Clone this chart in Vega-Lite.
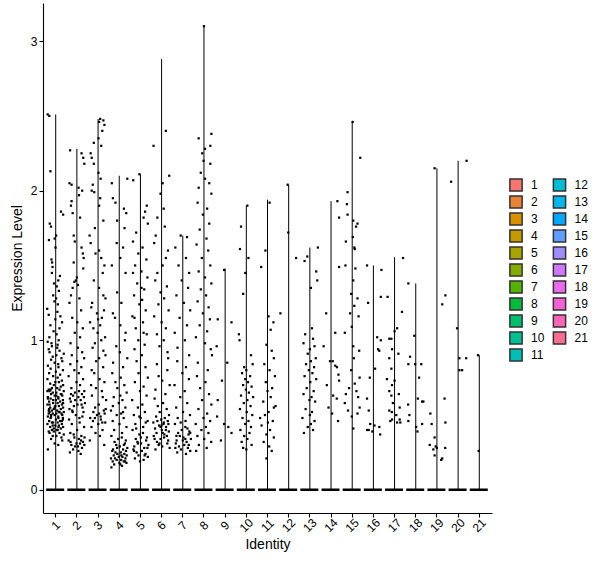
{
  "$schema": "https://vega.github.io/schema/vega-lite/v6.json",
  "width": 449,
  "height": 510,
  "autosize": {"type": "none"},
  "padding": {"left": 43, "top": 3, "right": 108, "bottom": 55},
  "background": "white",
  "config": {
    "font": "Liberation Sans",
    "view": {"stroke": null},
    "axis": {
      "domainColor": "black", "domainWidth": 1.1, "tickColor": "black", "tickWidth": 1.1, "tickSize": 4,
      "labelColor": "black", "labelFontSize": 12, "titleFontSize": 14, "titleFontWeight": "normal",
      "titleColor": "black", "grid": false, "labelPadding": 2
    },
    "legend": {
      "labelFontSize": 12, "labelColor": "black", "title": null, "orient": "none",
      "symbolType": "square", "symbolSize": 150, "symbolStrokeColor": "#333333", "symbolStrokeWidth": 1.5,
      "symbolOpacity": 1, "labelOffset": 8, "padding": 0
    }
  },
  "datasets": {
    "vio": [
      {"c":1,"min":0,"max":2.51},{"c":2,"min":0,"max":2.28},{"c":3,"min":0,"max":2.48},{"c":4,"min":0,"max":2.1},{"c":5,"min":0,"max":2.11},
      {"c":6,"min":0,"max":2.88},{"c":7,"min":0,"max":1.7},{"c":8,"min":0,"max":3.1},{"c":9,"min":0,"max":1.48},{"c":10,"min":0,"max":1.9},
      {"c":11,"min":0,"max":1.94},{"c":12,"min":0,"max":2.04},{"c":13,"min":0,"max":1.62},{"c":14,"min":0,"max":1.93},{"c":15,"min":0,"max":2.46},
      {"c":16,"min":0,"max":1.5},{"c":17,"min":0,"max":1.555},{"c":18,"min":0,"max":1.38},{"c":19,"min":0,"max":2.15},{"c":20,"min":0,"max":2.2},
      {"c":21,"min":0,"max":0.9}
    ],
    "cells": [
      {"c":1,"j":-0.38,"v":2.51},{"c":1,"j":-0.30,"v":2.50},{"c":1,"j":-0.25,"v":2.13},{"c":1,"j":0.25,"v":1.86},{"c":1,"j":0.35,"v":1.84},
      {"c":1,"j":-0.28,"v":1.78},{"c":1,"j":-0.22,"v":1.76},{"c":1,"j":0.02,"v":1.70},{"c":1,"j":-0.05,"v":1.68},{"c":1,"j":-0.32,"v":1.67},
      {"c":1,"j":-0.01,"v":1.62},{"c":1,"j":-0.20,"v":1.54},{"c":1,"j":-0.17,"v":1.52},{"c":1,"j":-0.15,"v":1.49},{"c":1,"j":-0.18,"v":1.45},
      {"c":1,"j":0.20,"v":1.43},{"c":1,"j":0.12,"v":1.40},{"c":1,"j":-0.08,"v":1.38},{"c":1,"j":0.05,"v":1.36},{"c":1,"j":0.15,"v":1.33},
      {"c":1,"j":-0.12,"v":1.30},{"c":1,"j":0.02,"v":1.28},{"c":1,"j":-0.06,"v":1.26},{"c":1,"j":0.10,"v":1.24},{"c":1,"j":-0.40,"v":1.21},
      {"c":1,"j":0.08,"v":1.19},{"c":1,"j":-0.33,"v":1.17},{"c":1,"j":0.22,"v":1.16},{"c":1,"j":-0.02,"v":1.14},{"c":1,"j":0.30,"v":1.12},
      {"c":1,"j":-0.25,"v":1.10},{"c":1,"j":0.18,"v":1.08},{"c":1,"j":-0.10,"v":1.06},{"c":1,"j":0.04,"v":1.04},{"c":1,"j":-0.30,"v":1.02},
      {"c":1,"j":0.14,"v":1.00},{"c":1,"j":-0.38,"v":0.99},{"c":1,"j":-0.20,"v":0.98},{"c":1,"j":0.09,"v":0.97},
      {"c":1,"j":-0.37,"v":0.27},{"c":1,"j":0.12,"v":0.30},{"c":1,"j":-0.05,"v":0.31},{"c":1,"j":0.31,"v":0.33},{"c":1,"j":-0.22,"v":0.34},
      {"c":1,"j":0.27,"v":0.35},{"c":1,"j":-0.14,"v":0.36},{"c":1,"j":0.03,"v":0.36},{"c":1,"j":0.38,"v":0.37},{"c":1,"j":-0.29,"v":0.38},
      {"c":1,"j":0.18,"v":0.38},{"c":1,"j":-0.33,"v":0.39},{"c":1,"j":0.07,"v":0.40},{"c":1,"j":-0.18,"v":0.40},{"c":1,"j":0.24,"v":0.41},
      {"c":1,"j":-0.09,"v":0.41},{"c":1,"j":0.35,"v":0.42},{"c":1,"j":-0.26,"v":0.42},{"c":1,"j":0.15,"v":0.43},{"c":1,"j":-0.02,"v":0.43},
      {"c":1,"j":0.29,"v":0.44},{"c":1,"j":-0.39,"v":0.44},{"c":1,"j":0.09,"v":0.45},{"c":1,"j":-0.12,"v":0.45},{"c":1,"j":0.21,"v":0.46},
      {"c":1,"j":-0.31,"v":0.46},{"c":1,"j":0.01,"v":0.47},{"c":1,"j":0.34,"v":0.47},{"c":1,"j":-0.24,"v":0.48},{"c":1,"j":0.13,"v":0.48},
      {"c":1,"j":-0.37,"v":0.49},{"c":1,"j":0.12,"v":0.49},{"c":1,"j":-0.05,"v":0.50},{"c":1,"j":0.31,"v":0.50},{"c":1,"j":-0.22,"v":0.50},
      {"c":1,"j":0.27,"v":0.51},{"c":1,"j":-0.14,"v":0.51},{"c":1,"j":0.03,"v":0.51},{"c":1,"j":0.38,"v":0.52},{"c":1,"j":-0.29,"v":0.52},
      {"c":1,"j":0.18,"v":0.52},{"c":1,"j":-0.33,"v":0.53},{"c":1,"j":0.07,"v":0.53},{"c":1,"j":-0.18,"v":0.53},{"c":1,"j":0.24,"v":0.54},
      {"c":1,"j":-0.09,"v":0.54},{"c":1,"j":0.35,"v":0.55},{"c":1,"j":-0.26,"v":0.55},{"c":1,"j":0.15,"v":0.56},{"c":1,"j":-0.02,"v":0.56},
      {"c":1,"j":0.29,"v":0.57},{"c":1,"j":-0.39,"v":0.57},{"c":1,"j":0.09,"v":0.58},{"c":1,"j":-0.12,"v":0.58},{"c":1,"j":0.21,"v":0.59},
      {"c":1,"j":-0.31,"v":0.59},{"c":1,"j":0.01,"v":0.60},{"c":1,"j":0.34,"v":0.60},{"c":1,"j":-0.24,"v":0.61},{"c":1,"j":0.13,"v":0.61},
      {"c":1,"j":-0.37,"v":0.62},{"c":1,"j":0.12,"v":0.62},{"c":1,"j":-0.05,"v":0.63},{"c":1,"j":0.31,"v":0.63},{"c":1,"j":-0.22,"v":0.64},
      {"c":1,"j":0.27,"v":0.64},{"c":1,"j":-0.14,"v":0.65},{"c":1,"j":0.03,"v":0.65},{"c":1,"j":0.38,"v":0.66},{"c":1,"j":-0.29,"v":0.66},
      {"c":1,"j":0.18,"v":0.67},{"c":1,"j":-0.33,"v":0.67},{"c":1,"j":0.07,"v":0.68},{"c":1,"j":-0.18,"v":0.68},{"c":1,"j":0.24,"v":0.69},
      {"c":1,"j":-0.09,"v":0.70},{"c":1,"j":0.35,"v":0.70},{"c":1,"j":-0.26,"v":0.71},{"c":1,"j":0.15,"v":0.72},{"c":1,"j":-0.02,"v":0.72},
      {"c":1,"j":0.29,"v":0.73},{"c":1,"j":-0.39,"v":0.74},{"c":1,"j":0.09,"v":0.75},{"c":1,"j":-0.12,"v":0.76},{"c":1,"j":0.21,"v":0.77},
      {"c":1,"j":-0.31,"v":0.78},{"c":1,"j":0.01,"v":0.79},{"c":1,"j":0.34,"v":0.80},{"c":1,"j":-0.24,"v":0.81},{"c":1,"j":0.13,"v":0.82},
      {"c":1,"j":-0.37,"v":0.83},{"c":1,"j":0.12,"v":0.84},{"c":1,"j":-0.05,"v":0.85},{"c":1,"j":0.31,"v":0.86},{"c":1,"j":-0.22,"v":0.87},
      {"c":1,"j":0.27,"v":0.88},{"c":1,"j":-0.14,"v":0.89},{"c":1,"j":0.03,"v":0.90},{"c":1,"j":0.38,"v":0.91},{"c":1,"j":-0.29,"v":0.92},
      {"c":1,"j":0.18,"v":0.93},{"c":1,"j":-0.33,"v":0.94},{"c":1,"j":0.07,"v":0.95},{"c":1,"j":-0.18,"v":0.96},
      {"c":1,"j":-0.09,"v":0.39},{"c":1,"j":0.09,"v":0.40},{"c":1,"j":0.13,"v":0.42},{"c":1,"j":-0.14,"v":0.43},{"c":1,"j":-0.18,"v":0.45},
      {"c":1,"j":0.29,"v":0.46},{"c":1,"j":0.34,"v":0.48},{"c":1,"j":-0.22,"v":0.49},{"c":1,"j":-0.33,"v":0.51},{"c":1,"j":0.15,"v":0.52},
      {"c":1,"j":-0.31,"v":0.54},{"c":1,"j":-0.05,"v":0.55},{"c":1,"j":-0.29,"v":0.57},{"c":1,"j":0.35,"v":0.58},{"c":1,"j":-0.12,"v":0.60},
      {"c":1,"j":-0.37,"v":0.61},{"c":1,"j":0.03,"v":0.63},{"c":1,"j":0.24,"v":0.64},{"c":1,"j":-0.39,"v":0.66},{"c":1,"j":-0.24,"v":0.67},

      {"c":2,"j":-0.32,"v":2.27},{"c":2,"j":0.22,"v":2.25},{"c":2,"j":0.30,"v":2.22},{"c":2,"j":0.35,"v":2.18},{"c":2,"j":-0.35,"v":2.05},
      {"c":2,"j":-0.25,"v":2.04},{"c":2,"j":0.08,"v":2.02},{"c":2,"j":0.25,"v":2.00},{"c":2,"j":0.10,"v":1.97},{"c":2,"j":-0.25,"v":1.93},
      {"c":2,"j":-0.28,"v":1.90},{"c":2,"j":-0.20,"v":1.85},{"c":2,"j":0.15,"v":1.82},{"c":2,"j":-0.15,"v":1.70},{"c":2,"j":-0.10,"v":1.66},
      {"c":2,"j":0.22,"v":1.62},{"c":2,"j":0.28,"v":1.58},{"c":2,"j":0.32,"v":1.55},{"c":2,"j":-0.15,"v":1.52},{"c":2,"j":0.30,"v":1.48},
      {"c":2,"j":0.00,"v":1.42},{"c":2,"j":-0.05,"v":1.40},{"c":2,"j":-0.12,"v":1.39},{"c":2,"j":0.05,"v":1.37},{"c":2,"j":-0.20,"v":1.35},
      {"c":2,"j":-0.28,"v":1.30},{"c":2,"j":0.12,"v":1.28},{"c":2,"j":-0.35,"v":1.25},{"c":2,"j":0.20,"v":1.20},{"c":2,"j":-0.22,"v":1.15},
      {"c":2,"j":0.02,"v":1.12},{"c":2,"j":0.28,"v":1.08},{"c":2,"j":-0.10,"v":1.05},{"c":2,"j":0.15,"v":1.02},{"c":2,"j":-0.30,"v":0.98},
      {"c":2,"j":0.05,"v":0.95},{"c":2,"j":0.25,"v":0.92},
      {"c":2,"j":0.18,"v":0.24},{"c":2,"j":-0.33,"v":0.25},{"c":2,"j":0.07,"v":0.26},{"c":2,"j":-0.18,"v":0.27},{"c":2,"j":0.24,"v":0.28},
      {"c":2,"j":-0.09,"v":0.29},{"c":2,"j":0.35,"v":0.30},{"c":2,"j":-0.26,"v":0.30},{"c":2,"j":0.15,"v":0.31},{"c":2,"j":-0.02,"v":0.31},
      {"c":2,"j":0.29,"v":0.32},{"c":2,"j":-0.39,"v":0.33},{"c":2,"j":0.09,"v":0.34},{"c":2,"j":-0.12,"v":0.35},{"c":2,"j":0.21,"v":0.36},
      {"c":2,"j":-0.31,"v":0.38},{"c":2,"j":0.01,"v":0.40},{"c":2,"j":0.34,"v":0.42},{"c":2,"j":-0.24,"v":0.44},{"c":2,"j":0.13,"v":0.45},
      {"c":2,"j":-0.37,"v":0.47},{"c":2,"j":0.12,"v":0.48},{"c":2,"j":-0.05,"v":0.50},{"c":2,"j":0.31,"v":0.52},{"c":2,"j":-0.22,"v":0.53},
      {"c":2,"j":0.27,"v":0.55},{"c":2,"j":-0.14,"v":0.56},{"c":2,"j":0.03,"v":0.57},{"c":2,"j":0.38,"v":0.58},{"c":2,"j":-0.29,"v":0.59},
      {"c":2,"j":0.18,"v":0.60},{"c":2,"j":-0.33,"v":0.61},{"c":2,"j":0.07,"v":0.62},{"c":2,"j":-0.18,"v":0.63},{"c":2,"j":0.24,"v":0.64},
      {"c":2,"j":-0.09,"v":0.65},{"c":2,"j":0.35,"v":0.66},{"c":2,"j":-0.26,"v":0.68},{"c":2,"j":0.15,"v":0.70},{"c":2,"j":-0.02,"v":0.72},
      {"c":2,"j":0.29,"v":0.74},{"c":2,"j":-0.39,"v":0.76},{"c":2,"j":0.09,"v":0.78},{"c":2,"j":-0.12,"v":0.80},{"c":2,"j":0.21,"v":0.82},
      {"c":2,"j":-0.31,"v":0.84},{"c":2,"j":0.01,"v":0.86},{"c":2,"j":0.34,"v":0.88},{"c":2,"j":-0.24,"v":0.90},
      {"c":2,"j":0.05,"v":0.29},{"c":2,"j":-0.30,"v":0.32},{"c":2,"j":0.20,"v":0.33},{"c":2,"j":0.36,"v":0.35},{"c":2,"j":-0.15,"v":0.37},
      {"c":2,"j":-0.35,"v":0.54},{"c":2,"j":0.22,"v":0.57},{"c":2,"j":-0.08,"v":0.60},{"c":2,"j":0.33,"v":0.62},{"c":2,"j":-0.28,"v":0.64},
      {"c":2,"j":0.10,"v":0.66},{"c":2,"j":-0.20,"v":0.52},{"c":2,"j":0.26,"v":0.49},

      {"c":3,"j":0.10,"v":2.48},{"c":3,"j":0.25,"v":2.47},{"c":3,"j":0.05,"v":2.46},{"c":3,"j":0.30,"v":2.44},{"c":3,"j":0.20,"v":2.40},
      {"c":3,"j":0.02,"v":2.35},{"c":3,"j":-0.20,"v":2.32},{"c":3,"j":0.15,"v":2.30},{"c":3,"j":-0.35,"v":2.25},{"c":3,"j":-0.30,"v":2.22},
      {"c":3,"j":-0.20,"v":2.18},{"c":3,"j":0.02,"v":2.12},{"c":3,"j":0.12,"v":2.08},{"c":3,"j":-0.25,"v":2.04},{"c":3,"j":-0.30,"v":2.00},
      {"c":3,"j":-0.18,"v":1.99},{"c":3,"j":0.10,"v":1.95},{"c":3,"j":0.05,"v":1.90},{"c":3,"j":0.25,"v":1.80},{"c":3,"j":-0.15,"v":1.75},
      {"c":3,"j":-0.40,"v":1.70},{"c":3,"j":-0.35,"v":1.65},{"c":3,"j":0.05,"v":1.60},{"c":3,"j":-0.12,"v":1.58},{"c":3,"j":0.15,"v":1.55},
      {"c":3,"j":0.30,"v":1.50},{"c":3,"j":0.22,"v":1.45},{"c":3,"j":-0.20,"v":1.40},{"c":3,"j":0.05,"v":1.35},{"c":3,"j":0.25,"v":1.30},
      {"c":3,"j":0.35,"v":1.28},{"c":3,"j":-0.28,"v":1.25},{"c":3,"j":-0.05,"v":1.18},{"c":3,"j":0.18,"v":1.15},{"c":3,"j":-0.38,"v":1.12},
      {"c":3,"j":0.10,"v":1.10},
      {"c":3,"j":0.29,"v":0.30},{"c":3,"j":-0.39,"v":0.33},{"c":3,"j":0.09,"v":0.36},{"c":3,"j":-0.12,"v":0.38},{"c":3,"j":0.21,"v":0.40},
      {"c":3,"j":-0.31,"v":0.42},{"c":3,"j":0.01,"v":0.44},{"c":3,"j":0.34,"v":0.45},{"c":3,"j":-0.24,"v":0.46},{"c":3,"j":0.13,"v":0.47},
      {"c":3,"j":-0.37,"v":0.48},{"c":3,"j":0.12,"v":0.49},{"c":3,"j":-0.05,"v":0.50},{"c":3,"j":0.31,"v":0.51},{"c":3,"j":-0.22,"v":0.52},
      {"c":3,"j":0.27,"v":0.53},{"c":3,"j":-0.14,"v":0.55},{"c":3,"j":0.03,"v":0.57},{"c":3,"j":0.38,"v":0.60},{"c":3,"j":-0.29,"v":0.63},
      {"c":3,"j":0.18,"v":0.66},{"c":3,"j":-0.33,"v":0.70},{"c":3,"j":0.07,"v":0.74},{"c":3,"j":-0.18,"v":0.78},{"c":3,"j":0.24,"v":0.82},
      {"c":3,"j":-0.09,"v":0.86},{"c":3,"j":0.35,"v":0.90},{"c":3,"j":-0.26,"v":0.95},{"c":3,"j":0.15,"v":1.00},{"c":3,"j":-0.02,"v":1.05},
      {"c":3,"j":0.22,"v":0.62},{"c":3,"j":-0.10,"v":0.68},{"c":3,"j":0.30,"v":0.72},{"c":3,"j":-0.30,"v":0.80},{"c":3,"j":0.05,"v":0.88},
      {"c":3,"j":0.25,"v":0.93},{"c":3,"j":-0.15,"v":0.98},{"c":3,"j":0.33,"v":1.02},{"c":3,"j":-0.22,"v":1.08},{"c":3,"j":0.00,"v":1.14},
      {"c":3,"j":0.28,"v":1.20},{"c":3,"j":-0.32,"v":1.22},{"c":3,"j":0.20,"v":0.45},{"c":3,"j":-0.15,"v":0.48},{"c":3,"j":0.05,"v":0.51},
      {"c":3,"j":0.36,"v":0.54},

      {"c":4,"j":0.38,"v":2.08},{"c":4,"j":-0.35,"v":2.05},{"c":4,"j":-0.30,"v":1.95},{"c":4,"j":-0.18,"v":1.92},{"c":4,"j":0.22,"v":1.88},
      {"c":4,"j":0.33,"v":1.85},{"c":4,"j":-0.10,"v":1.80},{"c":4,"j":0.25,"v":1.75},{"c":4,"j":-0.12,"v":1.65},{"c":4,"j":0.18,"v":1.62},
      {"c":4,"j":0.05,"v":1.55},{"c":4,"j":-0.35,"v":1.50},{"c":4,"j":0.30,"v":1.45},{"c":4,"j":-0.10,"v":1.32},{"c":4,"j":0.10,"v":1.25},
      {"c":4,"j":-0.30,"v":1.18},{"c":4,"j":-0.20,"v":1.15},{"c":4,"j":0.05,"v":1.10},{"c":4,"j":0.30,"v":1.05},
      {"c":4,"j":0.27,"v":1.00},{"c":4,"j":-0.14,"v":0.96},{"c":4,"j":0.03,"v":0.92},{"c":4,"j":0.38,"v":0.88},{"c":4,"j":-0.29,"v":0.85},
      {"c":4,"j":0.18,"v":0.82},{"c":4,"j":-0.33,"v":0.78},{"c":4,"j":0.07,"v":0.75},{"c":4,"j":-0.18,"v":0.72},{"c":4,"j":0.24,"v":0.70},
      {"c":4,"j":-0.09,"v":0.68},{"c":4,"j":0.35,"v":0.65},{"c":4,"j":-0.26,"v":0.62},{"c":4,"j":0.15,"v":0.60},{"c":4,"j":-0.02,"v":0.58},
      {"c":4,"j":0.29,"v":0.55},{"c":4,"j":-0.39,"v":0.53},{"c":4,"j":0.09,"v":0.51},{"c":4,"j":-0.12,"v":0.50},{"c":4,"j":0.21,"v":0.48},
      {"c":4,"j":-0.31,"v":0.46},{"c":4,"j":0.01,"v":0.44},{"c":4,"j":0.34,"v":0.42},{"c":4,"j":-0.24,"v":0.40},{"c":4,"j":0.13,"v":0.38},
      {"c":4,"j":-0.37,"v":0.36},{"c":4,"j":0.12,"v":0.35},{"c":4,"j":-0.05,"v":0.34},{"c":4,"j":0.31,"v":0.33},{"c":4,"j":-0.22,"v":0.32},
      {"c":4,"j":0.27,"v":0.31},{"c":4,"j":-0.14,"v":0.30},{"c":4,"j":0.03,"v":0.29},{"c":4,"j":0.38,"v":0.28},{"c":4,"j":-0.29,"v":0.27},
      {"c":4,"j":0.18,"v":0.27},{"c":4,"j":-0.33,"v":0.26},{"c":4,"j":0.07,"v":0.25},{"c":4,"j":-0.18,"v":0.25},{"c":4,"j":0.24,"v":0.24},
      {"c":4,"j":-0.09,"v":0.24},{"c":4,"j":0.35,"v":0.23},{"c":4,"j":-0.26,"v":0.23},{"c":4,"j":0.15,"v":0.22},{"c":4,"j":-0.02,"v":0.22},
      {"c":4,"j":0.29,"v":0.21},{"c":4,"j":-0.39,"v":0.21},{"c":4,"j":0.09,"v":0.20},{"c":4,"j":-0.12,"v":0.20},{"c":4,"j":0.21,"v":0.19},
      {"c":4,"j":-0.31,"v":0.19},{"c":4,"j":0.01,"v":0.18},{"c":4,"j":0.34,"v":0.18},{"c":4,"j":-0.24,"v":0.17},{"c":4,"j":0.13,"v":0.16},
      {"c":4,"j":-0.37,"v":0.15},
      {"c":4,"j":0.05,"v":0.17},{"c":4,"j":0.28,"v":0.19},{"c":4,"j":-0.20,"v":0.21},{"c":4,"j":0.10,"v":0.23},{"c":4,"j":0.32,"v":0.26},
      {"c":4,"j":-0.10,"v":0.28},{"c":4,"j":0.22,"v":0.30},{"c":4,"j":0.18,"v":0.52},{"c":4,"j":-0.30,"v":0.56},{"c":4,"j":0.05,"v":0.63},

      {"c":5,"j":-0.05,"v":2.11},{"c":5,"j":-0.34,"v":2.07},{"c":5,"j":0.30,"v":1.90},{"c":5,"j":0.22,"v":1.86},{"c":5,"j":0.15,"v":1.82},
      {"c":5,"j":0.35,"v":1.78},{"c":5,"j":-0.20,"v":1.72},{"c":5,"j":-0.35,"v":1.66},{"c":5,"j":0.10,"v":1.62},{"c":5,"j":-0.10,"v":1.58},
      {"c":5,"j":0.28,"v":1.54},{"c":5,"j":-0.25,"v":1.50},{"c":5,"j":0.05,"v":1.46},{"c":5,"j":0.33,"v":1.42},{"c":5,"j":-0.15,"v":1.38},
      {"c":5,"j":0.18,"v":1.34},{"c":5,"j":-0.30,"v":1.30},{"c":5,"j":0.08,"v":1.27},{"c":5,"j":-0.05,"v":1.24},{"c":5,"j":0.25,"v":1.20},
      {"c":5,"j":-0.38,"v":1.16},{"c":5,"j":0.12,"v":1.12},{"c":5,"j":-0.22,"v":1.08},{"c":5,"j":0.30,"v":1.04},{"c":5,"j":-0.10,"v":1.00},
      {"c":5,"j":0.20,"v":0.97},{"c":5,"j":-0.28,"v":0.94},
      {"c":5,"j":0.07,"v":0.90},{"c":5,"j":-0.18,"v":0.86},{"c":5,"j":0.24,"v":0.82},{"c":5,"j":-0.09,"v":0.78},{"c":5,"j":0.35,"v":0.75},
      {"c":5,"j":-0.26,"v":0.72},{"c":5,"j":0.15,"v":0.69},{"c":5,"j":-0.02,"v":0.66},{"c":5,"j":0.29,"v":0.63},{"c":5,"j":-0.39,"v":0.60},
      {"c":5,"j":0.09,"v":0.57},{"c":5,"j":-0.12,"v":0.55},{"c":5,"j":0.21,"v":0.52},{"c":5,"j":-0.31,"v":0.50},{"c":5,"j":0.01,"v":0.48},
      {"c":5,"j":0.34,"v":0.46},{"c":5,"j":-0.24,"v":0.44},{"c":5,"j":0.13,"v":0.42},{"c":5,"j":-0.37,"v":0.40},{"c":5,"j":0.12,"v":0.38},
      {"c":5,"j":-0.05,"v":0.37},{"c":5,"j":0.31,"v":0.35},{"c":5,"j":-0.22,"v":0.34},{"c":5,"j":0.27,"v":0.33},{"c":5,"j":-0.14,"v":0.32},
      {"c":5,"j":0.03,"v":0.31},{"c":5,"j":0.38,"v":0.30},{"c":5,"j":-0.29,"v":0.29},{"c":5,"j":0.18,"v":0.28},{"c":5,"j":-0.33,"v":0.27},
      {"c":5,"j":0.07,"v":0.26},{"c":5,"j":-0.18,"v":0.25},{"c":5,"j":0.24,"v":0.24},{"c":5,"j":-0.09,"v":0.23},{"c":5,"j":0.35,"v":0.22},
      {"c":5,"j":-0.26,"v":0.21},{"c":5,"j":0.15,"v":0.20},{"c":5,"j":-0.02,"v":0.19},
      {"c":5,"j":0.20,"v":0.23},{"c":5,"j":-0.30,"v":0.26},{"c":5,"j":0.33,"v":0.28},{"c":5,"j":-0.12,"v":0.31},{"c":5,"j":0.02,"v":0.35},
      {"c":5,"j":-0.20,"v":0.41},{"c":5,"j":0.25,"v":0.45},{"c":5,"j":-0.05,"v":0.49},{"c":5,"j":0.15,"v":1.05},{"c":5,"j":-0.28,"v":1.15},
      {"c":5,"j":0.05,"v":1.35},{"c":5,"j":-0.35,"v":1.45},

      {"c":6,"j":0.20,"v":2.40},{"c":6,"j":-0.38,"v":2.30},{"c":6,"j":0.36,"v":2.10},{"c":6,"j":0.05,"v":2.05},{"c":6,"j":-0.05,"v":1.98},
      {"c":6,"j":0.10,"v":1.88},{"c":6,"j":-0.20,"v":1.82},{"c":6,"j":0.15,"v":1.76},{"c":6,"j":-0.28,"v":1.70},{"c":6,"j":-0.35,"v":1.65},
      {"c":6,"j":0.30,"v":1.60},{"c":6,"j":0.20,"v":1.55},{"c":6,"j":0.05,"v":1.50},{"c":6,"j":-0.20,"v":1.45},{"c":6,"j":-0.30,"v":1.40},
      {"c":6,"j":0.25,"v":1.36},{"c":6,"j":-0.05,"v":1.32},{"c":6,"j":0.12,"v":1.28},{"c":6,"j":-0.15,"v":1.24},{"c":6,"j":0.33,"v":1.20},
      {"c":6,"j":-0.35,"v":1.16},{"c":6,"j":0.00,"v":1.12},{"c":6,"j":0.20,"v":1.08},{"c":6,"j":-0.22,"v":1.04},{"c":6,"j":0.10,"v":1.00},
      {"c":6,"j":-0.10,"v":0.96},{"c":6,"j":0.28,"v":0.92},
      {"c":6,"j":0.31,"v":0.88},{"c":6,"j":-0.22,"v":0.84},{"c":6,"j":0.27,"v":0.80},{"c":6,"j":-0.14,"v":0.76},{"c":6,"j":0.03,"v":0.73},
      {"c":6,"j":0.38,"v":0.70},{"c":6,"j":-0.29,"v":0.67},{"c":6,"j":0.18,"v":0.64},{"c":6,"j":-0.33,"v":0.61},{"c":6,"j":0.07,"v":0.58},
      {"c":6,"j":-0.18,"v":0.56},{"c":6,"j":0.24,"v":0.54},{"c":6,"j":-0.09,"v":0.52},{"c":6,"j":0.35,"v":0.50},{"c":6,"j":-0.26,"v":0.49},
      {"c":6,"j":0.15,"v":0.48},{"c":6,"j":-0.02,"v":0.47},{"c":6,"j":0.29,"v":0.46},{"c":6,"j":-0.39,"v":0.45},{"c":6,"j":0.09,"v":0.44},
      {"c":6,"j":-0.12,"v":0.43},{"c":6,"j":0.21,"v":0.42},{"c":6,"j":-0.31,"v":0.41},{"c":6,"j":0.01,"v":0.40},{"c":6,"j":0.34,"v":0.39},
      {"c":6,"j":-0.24,"v":0.38},{"c":6,"j":0.13,"v":0.37},{"c":6,"j":-0.37,"v":0.36},{"c":6,"j":0.12,"v":0.35},{"c":6,"j":-0.05,"v":0.34},
      {"c":6,"j":0.31,"v":0.33},{"c":6,"j":-0.22,"v":0.32},{"c":6,"j":0.27,"v":0.31},{"c":6,"j":-0.14,"v":0.30},{"c":6,"j":0.03,"v":0.29},
      {"c":6,"j":0.38,"v":0.28},{"c":6,"j":-0.29,"v":0.27},
      {"c":6,"j":0.20,"v":0.40},{"c":6,"j":-0.05,"v":0.42},{"c":6,"j":0.32,"v":0.44},{"c":6,"j":-0.20,"v":0.46},{"c":6,"j":0.05,"v":0.38},
      {"c":6,"j":0.25,"v":0.36},{"c":6,"j":-0.33,"v":0.34},{"c":6,"j":0.00,"v":0.43},{"c":6,"j":0.10,"v":0.45},{"c":6,"j":-0.10,"v":0.31},

      {"c":7,"j":-0.10,"v":1.70},{"c":7,"j":0.20,"v":1.69},{"c":7,"j":-0.35,"v":1.62},{"c":7,"j":0.15,"v":1.55},{"c":7,"j":-0.20,"v":1.50},
      {"c":7,"j":0.30,"v":1.45},{"c":7,"j":-0.05,"v":1.40},{"c":7,"j":0.25,"v":1.35},{"c":7,"j":-0.30,"v":1.30},{"c":7,"j":0.05,"v":1.25},
      {"c":7,"j":0.35,"v":1.20},{"c":7,"j":-0.15,"v":1.15},{"c":7,"j":0.20,"v":1.10},{"c":7,"j":-0.38,"v":1.05},{"c":7,"j":0.10,"v":1.00},
      {"c":7,"j":-0.25,"v":0.95},{"c":7,"j":0.30,"v":0.90},
      {"c":7,"j":-0.26,"v":0.86},{"c":7,"j":0.15,"v":0.82},{"c":7,"j":-0.02,"v":0.78},{"c":7,"j":0.29,"v":0.74},{"c":7,"j":-0.39,"v":0.70},
      {"c":7,"j":0.09,"v":0.66},{"c":7,"j":-0.12,"v":0.62},{"c":7,"j":0.21,"v":0.58},{"c":7,"j":-0.31,"v":0.55},{"c":7,"j":0.01,"v":0.52},
      {"c":7,"j":0.34,"v":0.50},{"c":7,"j":-0.24,"v":0.48},{"c":7,"j":0.13,"v":0.46},{"c":7,"j":-0.37,"v":0.44},{"c":7,"j":0.12,"v":0.42},
      {"c":7,"j":-0.05,"v":0.40},{"c":7,"j":0.31,"v":0.39},{"c":7,"j":-0.22,"v":0.38},{"c":7,"j":0.27,"v":0.37},{"c":7,"j":-0.14,"v":0.36},
      {"c":7,"j":0.03,"v":0.35},{"c":7,"j":0.38,"v":0.34},{"c":7,"j":-0.29,"v":0.33},{"c":7,"j":0.18,"v":0.32},{"c":7,"j":-0.33,"v":0.31},
      {"c":7,"j":0.07,"v":0.30},{"c":7,"j":-0.18,"v":0.29},{"c":7,"j":0.24,"v":0.28},{"c":7,"j":-0.09,"v":0.27},{"c":7,"j":0.35,"v":0.26},
      {"c":7,"j":-0.26,"v":0.25},{"c":7,"j":0.15,"v":0.24},
      {"c":7,"j":0.28,"v":0.30},{"c":7,"j":0.00,"v":0.33},{"c":7,"j":-0.30,"v":0.36},{"c":7,"j":0.22,"v":0.41},{"c":7,"j":-0.10,"v":0.45},
      {"c":7,"j":-0.35,"v":0.28},{"c":7,"j":0.12,"v":0.34},{"c":7,"j":0.35,"v":0.38},

      {"c":8,"j":0.00,"v":3.10},{"c":8,"j":0.35,"v":2.38},{"c":8,"j":-0.25,"v":2.35},{"c":8,"j":0.30,"v":2.30},{"c":8,"j":0.05,"v":2.28},
      {"c":8,"j":-0.08,"v":2.25},{"c":8,"j":-0.02,"v":2.20},{"c":8,"j":0.30,"v":2.18},{"c":8,"j":-0.15,"v":2.12},{"c":8,"j":0.05,"v":2.08},
      {"c":8,"j":0.25,"v":2.05},{"c":8,"j":-0.25,"v":2.02},{"c":8,"j":0.35,"v":1.98},{"c":8,"j":-0.30,"v":1.92},{"c":8,"j":0.15,"v":1.88},
      {"c":8,"j":-0.05,"v":1.84},{"c":8,"j":0.25,"v":1.78},{"c":8,"j":-0.20,"v":1.74},{"c":8,"j":0.12,"v":1.68},{"c":8,"j":-0.35,"v":1.64},
      {"c":8,"j":0.20,"v":1.60},{"c":8,"j":-0.10,"v":1.55},{"c":8,"j":0.30,"v":1.50},{"c":8,"j":-0.25,"v":1.46},{"c":8,"j":0.05,"v":1.42},
      {"c":8,"j":0.35,"v":1.38},{"c":8,"j":-0.15,"v":1.34},{"c":8,"j":0.10,"v":1.30},{"c":8,"j":-0.30,"v":1.26},{"c":8,"j":0.22,"v":1.22},
      {"c":8,"j":-0.05,"v":1.18},{"c":8,"j":0.28,"v":1.14},{"c":8,"j":-0.20,"v":1.10},{"c":8,"j":0.15,"v":1.06},{"c":8,"j":-0.38,"v":1.02},
      {"c":8,"j":0.05,"v":0.98},{"c":8,"j":0.32,"v":0.94},
      {"c":8,"j":0.38,"v":0.90},{"c":8,"j":-0.29,"v":0.85},{"c":8,"j":0.18,"v":0.80},{"c":8,"j":-0.33,"v":0.76},{"c":8,"j":0.07,"v":0.72},
      {"c":8,"j":-0.18,"v":0.68},{"c":8,"j":0.24,"v":0.64},{"c":8,"j":-0.09,"v":0.60},{"c":8,"j":0.35,"v":0.57},{"c":8,"j":-0.26,"v":0.54},
      {"c":8,"j":0.15,"v":0.51},{"c":8,"j":-0.02,"v":0.48},{"c":8,"j":0.29,"v":0.46},{"c":8,"j":-0.39,"v":0.44},{"c":8,"j":0.09,"v":0.42},
      {"c":8,"j":-0.12,"v":0.40},{"c":8,"j":0.21,"v":0.38},{"c":8,"j":-0.31,"v":0.36},{"c":8,"j":0.01,"v":0.34},{"c":8,"j":0.34,"v":0.32},
      {"c":8,"j":-0.24,"v":0.30},{"c":8,"j":0.13,"v":0.28},{"c":8,"j":-0.37,"v":0.26},

      {"c":9,"j":-0.05,"v":1.47},{"c":9,"j":-0.35,"v":1.14},{"c":9,"j":-0.40,"v":0.96},{"c":9,"j":-0.15,"v":0.73},{"c":9,"j":-0.35,"v":0.60},
      {"c":9,"j":-0.38,"v":0.49},{"c":9,"j":-0.05,"v":0.44},{"c":9,"j":0.15,"v":0.42},{"c":9,"j":0.30,"v":0.38},{"c":9,"j":0.30,"v":1.12},
      {"c":9,"j":0.10,"v":0.85},{"c":9,"j":-0.20,"v":0.33},

      {"c":10,"j":0.05,"v":1.90},{"c":10,"j":-0.25,"v":1.76},{"c":10,"j":-0.30,"v":1.61},{"c":10,"j":0.10,"v":1.55},{"c":10,"j":-0.05,"v":1.45},
      {"c":10,"j":-0.15,"v":1.31},{"c":10,"j":-0.35,"v":1.04},{"c":10,"j":-0.32,"v":1.00},{"c":10,"j":0.22,"v":0.90},{"c":10,"j":0.30,"v":0.84},
      {"c":10,"j":-0.10,"v":0.82},{"c":10,"j":0.00,"v":0.80},{"c":10,"j":-0.20,"v":0.78},{"c":10,"j":0.18,"v":0.76},{"c":10,"j":-0.05,"v":0.74},
      {"c":10,"j":0.08,"v":0.72},{"c":10,"j":-0.15,"v":0.70},{"c":10,"j":0.25,"v":0.69},{"c":10,"j":-0.02,"v":0.67},{"c":10,"j":0.12,"v":0.65},
      {"c":10,"j":-0.25,"v":0.63},{"c":10,"j":0.32,"v":0.62},{"c":10,"j":0.05,"v":0.60},{"c":10,"j":-0.12,"v":0.58},{"c":10,"j":0.20,"v":0.56},
      {"c":10,"j":-0.30,"v":0.54},{"c":10,"j":0.02,"v":0.52},{"c":10,"j":0.28,"v":0.50},{"c":10,"j":-0.18,"v":0.48},{"c":10,"j":0.10,"v":0.46},
      {"c":10,"j":-0.05,"v":0.44},{"c":10,"j":0.22,"v":0.42},{"c":10,"j":-0.28,"v":0.40},{"c":10,"j":0.15,"v":0.38},{"c":10,"j":-0.10,"v":0.36},
      {"c":10,"j":0.05,"v":0.34},{"c":10,"j":-0.22,"v":0.32},{"c":10,"j":0.25,"v":0.30},{"c":10,"j":-0.15,"v":0.28},{"c":10,"j":0.00,"v":0.27},

      {"c":11,"j":0.10,"v":1.92},{"c":11,"j":-0.10,"v":1.60},{"c":11,"j":-0.30,"v":1.49},{"c":11,"j":0.05,"v":1.16},{"c":11,"j":0.28,"v":1.12},
      {"c":11,"j":0.15,"v":1.07},{"c":11,"j":-0.05,"v":0.97},{"c":11,"j":0.20,"v":0.93},{"c":11,"j":0.30,"v":0.88},{"c":11,"j":-0.15,"v":0.84},
      {"c":11,"j":0.10,"v":0.80},{"c":11,"j":0.35,"v":0.76},{"c":11,"j":-0.08,"v":0.72},{"c":11,"j":0.22,"v":0.68},{"c":11,"j":0.00,"v":0.66},
      {"c":11,"j":0.15,"v":0.62},{"c":11,"j":-0.20,"v":0.59},{"c":11,"j":0.30,"v":0.55},{"c":11,"j":0.05,"v":0.52},{"c":11,"j":-0.12,"v":0.50},
      {"c":11,"j":0.25,"v":0.46},{"c":11,"j":-0.28,"v":0.43},{"c":11,"j":0.12,"v":0.40},{"c":11,"j":-0.05,"v":0.37},{"c":11,"j":0.30,"v":0.35},
      {"c":11,"j":-0.18,"v":0.32},{"c":11,"j":0.08,"v":0.29},{"c":11,"j":0.20,"v":0.26},{"c":11,"j":-0.05,"v":0.21},{"c":11,"j":0.02,"v":0.45},
      {"c":11,"j":0.38,"v":0.56},{"c":11,"j":-0.35,"v":0.48},

      {"c":12,"j":-0.05,"v":2.04},{"c":12,"j":-0.02,"v":1.72},{"c":12,"j":0.35,"v":1.55},{"c":12,"j":-0.39,"v":1.18},

      {"c":13,"j":0.38,"v":1.62},{"c":13,"j":-0.12,"v":1.56},{"c":13,"j":-0.25,"v":1.53},{"c":13,"j":0.30,"v":1.46},{"c":13,"j":0.35,"v":1.40},
      {"c":13,"j":0.05,"v":1.35},{"c":13,"j":0.10,"v":1.08},{"c":13,"j":-0.22,"v":1.04},{"c":13,"j":0.15,"v":1.01},{"c":13,"j":-0.30,"v":0.98},
      {"c":13,"j":0.22,"v":0.96},{"c":13,"j":0.00,"v":0.94},{"c":13,"j":-0.10,"v":0.91},{"c":13,"j":0.28,"v":0.88},{"c":13,"j":0.05,"v":0.86},
      {"c":13,"j":-0.18,"v":0.84},{"c":13,"j":0.20,"v":0.82},{"c":13,"j":-0.05,"v":0.80},{"c":13,"j":0.12,"v":0.78},{"c":13,"j":-0.25,"v":0.76},
      {"c":13,"j":0.30,"v":0.74},{"c":13,"j":0.02,"v":0.72},{"c":13,"j":-0.15,"v":0.68},{"c":13,"j":0.18,"v":0.66},{"c":13,"j":-0.30,"v":0.64},
      {"c":13,"j":0.08,"v":0.62},{"c":13,"j":-0.02,"v":0.60},{"c":13,"j":0.25,"v":0.59},{"c":13,"j":-0.20,"v":0.54},{"c":13,"j":0.10,"v":0.52},
      {"c":13,"j":0.00,"v":0.50},{"c":13,"j":-0.35,"v":0.48},{"c":13,"j":0.22,"v":0.46},{"c":13,"j":0.05,"v":0.44},{"c":13,"j":-0.10,"v":0.42},
      {"c":13,"j":0.15,"v":0.40},{"c":13,"j":-0.28,"v":0.38},

      {"c":14,"j":0.30,"v":1.93},{"c":14,"j":0.38,"v":1.82},{"c":14,"j":0.38,"v":1.49},{"c":14,"j":-0.23,"v":1.18},{"c":14,"j":0.20,"v":1.05},
      {"c":14,"j":-0.35,"v":0.96},{"c":14,"j":-0.05,"v":0.86},{"c":14,"j":0.08,"v":0.86},{"c":14,"j":0.20,"v":0.83},{"c":14,"j":0.28,"v":0.82},
      {"c":14,"j":0.35,"v":0.77},{"c":14,"j":0.38,"v":0.73},{"c":14,"j":0.10,"v":0.63},{"c":14,"j":0.27,"v":0.61},{"c":14,"j":0.05,"v":0.51},
      {"c":14,"j":0.33,"v":0.46},{"c":14,"j":-0.20,"v":0.70},{"c":14,"j":-0.12,"v":0.55},

      {"c":15,"j":0.02,"v":2.46},{"c":15,"j":0.38,"v":2.22},{"c":15,"j":-0.22,"v":1.99},{"c":15,"j":-0.25,"v":1.91},{"c":15,"j":-0.22,"v":1.84},
      {"c":15,"j":0.05,"v":1.80},{"c":15,"j":0.25,"v":1.78},{"c":15,"j":0.18,"v":1.76},{"c":15,"j":0.03,"v":1.69},{"c":15,"j":-0.30,"v":1.66},
      {"c":15,"j":0.10,"v":1.62},{"c":15,"j":0.12,"v":1.61},{"c":15,"j":0.15,"v":1.48},{"c":15,"j":0.05,"v":1.40},{"c":15,"j":-0.05,"v":1.31},
      {"c":15,"j":0.25,"v":1.28},{"c":15,"j":0.10,"v":1.23},{"c":15,"j":-0.10,"v":1.18},{"c":15,"j":0.30,"v":1.16},{"c":15,"j":-0.02,"v":1.09},
      {"c":15,"j":0.05,"v":0.96},{"c":15,"j":0.08,"v":0.88},{"c":15,"j":-0.05,"v":0.80},{"c":15,"j":0.12,"v":0.71},{"c":15,"j":-0.15,"v":0.68},
      {"c":15,"j":0.20,"v":0.66},{"c":15,"j":-0.30,"v":0.64},{"c":15,"j":0.28,"v":0.62},{"c":15,"j":0.35,"v":0.55},{"c":15,"j":-0.20,"v":0.53},
      {"c":15,"j":0.25,"v":0.51},{"c":15,"j":-0.02,"v":0.49},{"c":15,"j":0.05,"v":0.41},{"c":15,"j":-0.32,"v":1.50},{"c":15,"j":-0.35,"v":1.05},
      {"c":15,"j":0.33,"v":0.93},{"c":15,"j":0.35,"v":0.75},{"c":15,"j":-0.35,"v":0.58},

      {"c":16,"j":-0.30,"v":1.50},{"c":16,"j":0.38,"v":1.47},{"c":16,"j":-0.25,"v":1.25},{"c":16,"j":0.35,"v":1.29},{"c":16,"j":0.18,"v":1.02},
      {"c":16,"j":0.35,"v":1.00},{"c":16,"j":0.22,"v":0.94},{"c":16,"j":0.28,"v":0.93},{"c":16,"j":0.08,"v":0.81},{"c":16,"j":-0.17,"v":0.75},
      {"c":16,"j":-0.30,"v":0.61},{"c":16,"j":-0.22,"v":0.53},{"c":16,"j":-0.15,"v":0.44},{"c":16,"j":0.05,"v":0.43},{"c":16,"j":0.28,"v":0.42},
      {"c":16,"j":-0.05,"v":0.39},{"c":16,"j":-0.22,"v":0.40},{"c":16,"j":-0.30,"v":0.40},{"c":16,"j":0.32,"v":0.37},

      {"c":17,"j":0.40,"v":1.55},{"c":17,"j":-0.33,"v":1.29},{"c":17,"j":0.35,"v":1.19},{"c":17,"j":0.12,"v":1.08},{"c":17,"j":0.00,"v":1.06},
      {"c":17,"j":-0.25,"v":1.01},{"c":17,"j":-0.15,"v":1.01},{"c":17,"j":-0.12,"v":0.94},{"c":17,"j":0.18,"v":0.91},{"c":17,"j":-0.25,"v":0.88},
      {"c":17,"j":-0.15,"v":0.81},{"c":17,"j":-0.36,"v":0.74},{"c":17,"j":0.00,"v":0.73},{"c":17,"j":-0.12,"v":0.70},{"c":17,"j":-0.25,"v":0.66},
      {"c":17,"j":-0.15,"v":0.63},{"c":17,"j":-0.08,"v":0.58},{"c":17,"j":0.20,"v":0.64},{"c":17,"j":0.24,"v":0.55},{"c":17,"j":-0.25,"v":0.53},
      {"c":17,"j":-0.13,"v":0.52},{"c":17,"j":0.08,"v":0.50},{"c":17,"j":-0.12,"v":0.47},{"c":17,"j":0.24,"v":0.47},{"c":17,"j":-0.20,"v":0.46},
      {"c":17,"j":0.12,"v":0.45},{"c":17,"j":0.27,"v":0.45},

      {"c":18,"j":-0.35,"v":1.38},{"c":18,"j":-0.07,"v":1.03},{"c":18,"j":-0.27,"v":0.89},{"c":18,"j":-0.35,"v":0.84},{"c":18,"j":-0.03,"v":0.84},
      {"c":18,"j":0.26,"v":0.84},{"c":18,"j":0.16,"v":0.75},{"c":18,"j":0.10,"v":0.61},{"c":18,"j":0.36,"v":0.59},{"c":18,"j":0.30,"v":0.59},
      {"c":18,"j":-0.36,"v":0.57},{"c":18,"j":-0.30,"v":0.50},{"c":18,"j":-0.35,"v":0.46},{"c":18,"j":0.30,"v":0.44},{"c":18,"j":0.02,"v":0.42},
      {"c":18,"j":0.08,"v":0.39},

      {"c":19,"j":-0.11,"v":2.15},{"c":19,"j":0.25,"v":1.24},{"c":19,"j":0.40,"v":1.30},{"c":19,"j":0.36,"v":0.61},{"c":19,"j":0.40,"v":0.45},
      {"c":19,"j":-0.31,"v":0.51},{"c":19,"j":-0.25,"v":0.44},{"c":19,"j":-0.11,"v":0.35},{"c":19,"j":-0.34,"v":0.30},{"c":19,"j":-0.06,"v":0.29},
      {"c":19,"j":0.00,"v":0.28},{"c":19,"j":-0.17,"v":0.27},{"c":19,"j":-0.11,"v":0.23},{"c":19,"j":0.25,"v":0.21},{"c":19,"j":0.20,"v":0.20},
      {"c":19,"j":0.39,"v":0.28},

      {"c":20,"j":-0.33,"v":2.06},{"c":20,"j":0.40,"v":2.20},{"c":20,"j":-0.05,"v":1.08},{"c":20,"j":0.06,"v":0.88},{"c":20,"j":0.38,"v":0.88},
      {"c":20,"j":0.06,"v":0.80},{"c":20,"j":0.19,"v":0.80},

      {"c":21,"j":-0.06,"v":0.90},{"c":21,"j":-0.03,"v":0.26}
    ]
  },
  "resolve": {"scale": {"color": "independent"}, "legend": {"color": "independent"}},
  "layer": [
    {
      "data": {"name": "vio"},
      "transform": [{"filter": "datum.c <= 11"}],
      "mark": {"type": "bar", "stroke": "black", "strokeWidth": 2.6, "width": {"band": 0.9}},
      "encoding": {
        "x": {
          "field": "c", "type": "nominal",
          "scale": {"domain": [1,2,3,4,5,6,7,8,9,10,11,12,13,14,15,16,17,18,19,20,21], "paddingInner": 0, "paddingOuter": 0.1},
          "axis": {"title": "Identity", "labelAngle": -45, "labelAlign": "center", "labelBaseline": "middle", "labelPadding": 8, "titlePadding": 4}
        },
        "y": {
          "field": "min", "type": "quantitative",
          "scale": {"domain": [-0.155, 3.255], "nice": false, "zero": false},
          "axis": {"title": "Expression Level", "values": [0, 1, 2, 3], "format": "d", "titlePadding": 6}
        },
        "color": {
          "field": "c", "type": "nominal",
          "scale": {
            "domain": [1,2,3,4,5,6,7,8,9,10,11],
            "range": ["#F8766D","#EB8335","#DA8F00","#C49A00","#A9A400","#85AD00","#53B400","#00BA38","#00BE6C","#00C094","#00C0B5"]
          },
          "legend": {"legendX": 466, "legendY": 175, "rowPadding": -10}
        }
      }
    },
    {
      "data": {"name": "vio"},
      "transform": [{"filter": "datum.c >= 12"}],
      "mark": {"type": "bar", "stroke": "black", "strokeWidth": 2.6, "width": {"band": 0.9}},
      "encoding": {
        "x": {"field": "c", "type": "nominal"},
        "y": {"field": "min", "type": "quantitative"},
        "color": {
          "field": "c", "type": "nominal",
          "scale": {
            "domain": [12,13,14,15,16,17,18,19,20,21],
            "range": ["#00BDD3","#00B6EA","#00A9FF","#619CFF","#9F8CFF","#CF78FF","#EC69EF","#FB61D6","#FF63B7","#FF6C91"]
          },
          "legend": {"legendX": 509.5, "legendY": 175, "rowPadding": -10}
        }
      }
    },
    {
      "data": {"name": "vio"},
      "mark": {"type": "rule", "color": "black", "strokeWidth": 1},
      "encoding": {
        "x": {"field": "c", "type": "nominal"},
        "y": {"field": "min", "type": "quantitative"},
        "y2": {"field": "max"}
      }
    },
    {
      "data": {"name": "cells"},
      "mark": {"type": "square", "size": 5, "color": "black", "opacity": 1},
      "encoding": {
        "x": {"field": "c", "type": "nominal"},
        "xOffset": {"field": "j", "type": "quantitative", "scale": {"domain": [-0.5, 0.5]}},
        "y": {"field": "v", "type": "quantitative"}
      }
    }
  ]
}
